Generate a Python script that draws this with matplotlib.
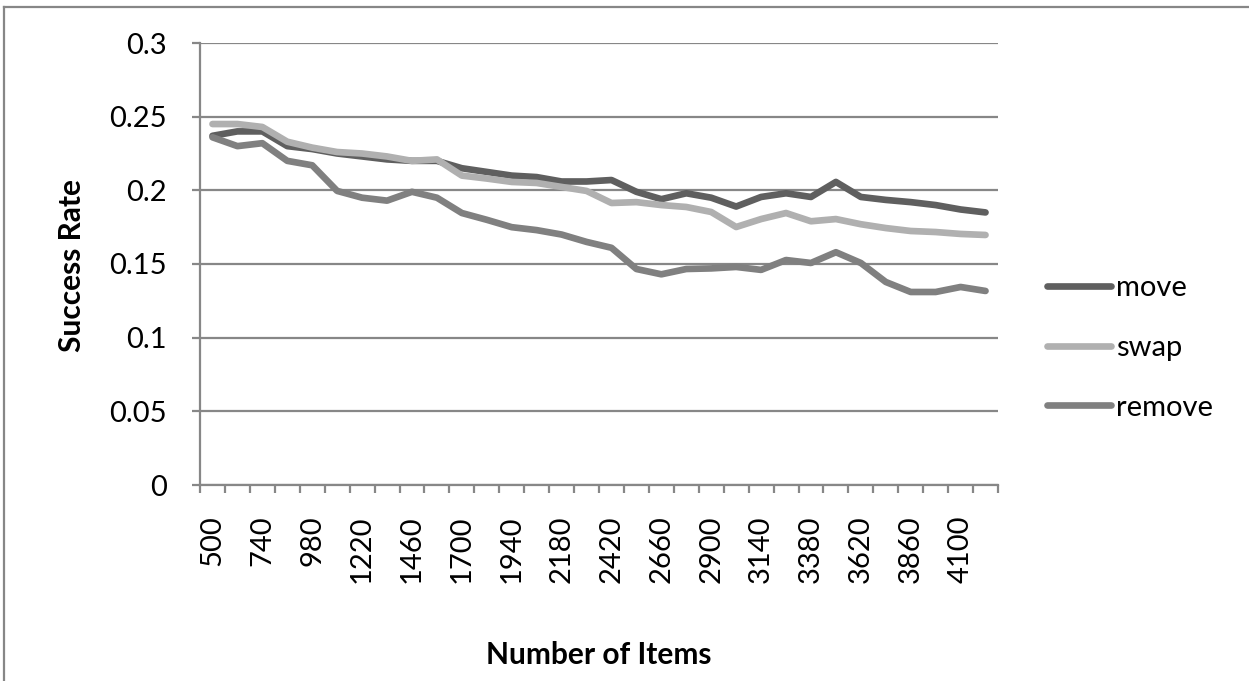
import matplotlib
matplotlib.use("Agg")
import matplotlib.pyplot as plt
from matplotlib.lines import Line2D
import numpy as np

# Number of items (category axis)
items = [500 + 120 * k for k in range(32)]

move = [0.237, 0.240, 0.240, 0.230, 0.228, 0.225, 0.223, 0.221, 0.220, 0.220,
        0.215, 0.2125, 0.210, 0.209, 0.206, 0.206, 0.207, 0.199, 0.194, 0.198,
        0.195, 0.189, 0.1955, 0.198, 0.1955, 0.2057, 0.1955, 0.1935, 0.192, 0.190,
        0.187, 0.185]

swap = [0.245, 0.245, 0.243, 0.233, 0.229, 0.226, 0.225, 0.223, 0.220, 0.221,
        0.210, 0.208, 0.2057, 0.205, 0.2023, 0.1996, 0.1914, 0.192, 0.190, 0.1887,
        0.1853, 0.1751, 0.1805, 0.1846, 0.179, 0.1805, 0.177, 0.1744, 0.1724, 0.1717,
        0.1704, 0.1697]

remove = [0.236, 0.230, 0.232, 0.220, 0.217, 0.1996, 0.195, 0.193, 0.199, 0.195,
          0.1846, 0.180, 0.175, 0.173, 0.170, 0.165, 0.161, 0.1466, 0.143, 0.1466,
          0.147, 0.148, 0.146, 0.1527, 0.1507, 0.158, 0.1507, 0.1378, 0.131, 0.131,
          0.1344, 0.1317]

series_names = ["move", "swap", "remove"]
series_colors = ["#5f5f5f", "#b0b0b0", "#808080"]

y_ticks = [0, 0.05, 0.1, 0.15, 0.2, 0.25, 0.3]
y_tick_labels = ["0", "0.05", "0.1", "0.15", "0.2", "0.25", "0.3"]

FONT = "Lato"
GRID = "#878787"
TICK_FS = 21
TITLE_FS = 21.5

W, H = 1249, 681
fig = plt.figure(figsize=(W / 100, H / 100), dpi=100)

# outer chart frame
fig.add_artist(Line2D([4 / W, 1.0], [1 - 7 / H, 1 - 7 / H], color=GRID, lw=1.6,
                      transform=fig.transFigure))
fig.add_artist(Line2D([4 / W, 4 / W], [0, 1 - 7 / H], color=GRID, lw=1.6,
                      transform=fig.transFigure))

ax = fig.add_axes([200 / W, 1 - 485 / H, (998 - 200) / W, (485 - 43) / H])

x = np.arange(len(items))
for vals, name, col in zip([move, swap, remove], series_names, series_colors):
    ax.plot(x, vals, color=col, lw=4.8, label=name, solid_capstyle="round",
            solid_joinstyle="round", zorder=3)

ax.set_xlim(-0.5, len(items) - 0.5)
ax.set_ylim(0, 0.3)

ax.set_yticks(y_ticks)
ax.set_yticklabels(y_tick_labels, fontfamily=FONT, fontsize=TICK_FS)
ax.yaxis.grid(True, color=GRID, lw=1.6)
ax.set_axisbelow(True)

ax.set_xticks(x[::2])
ax.set_xticklabels([str(v) for v in items[::2]], rotation=90, fontfamily=FONT,
                   fontsize=TICK_FS)
ax.set_xticks(np.arange(len(items) + 1) - 0.5, minor=True)
ax.tick_params(axis="x", which="major", length=0, pad=22)
ax.tick_params(axis="x", which="minor", length=6, width=1.6, color=GRID)
ax.tick_params(axis="y", length=6, width=1.6, color=GRID, pad=18)

for side in ["top", "right"]:
    ax.spines[side].set_visible(False)
for side in ["left", "bottom"]:
    ax.spines[side].set_color(GRID)
    ax.spines[side].set_linewidth(1.6)

# axis titles
fig.text(599 / W, 1 - 655 / H, "Number of Items", ha="center", va="center",
         fontfamily=FONT, fontweight="bold", fontsize=TITLE_FS)
fig.text(72 / W, 1 - 266 / H, "Success Rate", ha="center", va="center",
         rotation=90, fontfamily=FONT, fontweight="bold", fontsize=TITLE_FS)

leg = fig.legend(loc="center left", bbox_to_anchor=(1047 / W, 1 - 348 / H),
                 frameon=False, prop={"family": FONT, "size": TICK_FS},
                 handlelength=2.2, handletextpad=0.17, labelspacing=1.15,
                 borderaxespad=0, borderpad=0)

fig.savefig("out.png", dpi=100)
